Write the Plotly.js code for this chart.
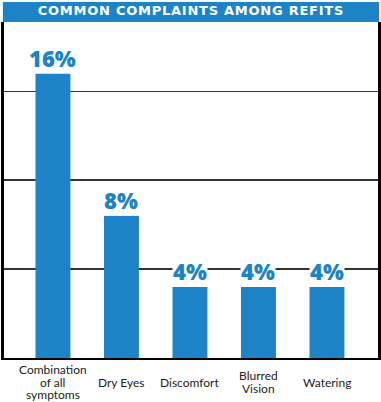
<!DOCTYPE html>
<html><head><meta charset="utf-8">
<script src="https://cdn.plot.ly/plotly-3.0.1.min.js"></script>
<style>html,body{margin:0;padding:0;background:#fff}#chart{width:381px;height:402px}</style>
</head><body><div id="chart"></div>
<script>
const chartTitle = "COMMON COMPLAINTS AMONG REFITS";
const categories = ["Combination<br>of all<br>symptoms", "Dry Eyes", "Discomfort", "Blurred<br>Vision", "Watering"];
const values = [16, 8, 4, 4, 4];
const valueLabels = ["16%", "8%", "4%", "4%", "4%"];
const gridTicks = [5, 10, 15];

const blue = "#1c84c6";
const xIdx = categories.map((_, i) => i);
const plotH = 402 - 22 - 44;
const lineGap = 12.5;
const labelCenter = 24;

const annotations = [];
values.forEach((v, i) => {
  annotations.push({x: i, y: v, xref: "x", yref: "y", text: valueLabels[i], showarrow: false,
    yanchor: "bottom", bgcolor: "#ffffff", borderpad: 0,
    font: {family: "Open Sans, sans-serif", size: 22, color: blue, weight: 800}});
  const lines = categories[i].split("<br>");
  lines.forEach((ln, k) => {
    const off = labelCenter + (k - (lines.length - 1) / 2) * lineGap;
    annotations.push({x: i, y: -off / plotH, xref: "x", yref: "paper", text: ln, showarrow: false,
      yanchor: "middle", align: "center", borderpad: 0,
      font: {family: "Lato, sans-serif", size: 12, color: "#222"}});
  });
});
annotations.push({x: 0.5, y: 1 + 11 / plotH, xref: "paper", yref: "paper", text: "<b>" + chartTitle + "</b>",
  showarrow: false, yanchor: "middle", xanchor: "center",
  font: {family: "DejaVu Sans, sans-serif", size: 13, color: "#ffffff"}});

const layout = {
  width: 381, height: 402,
  margin: {l: 4, r: 3, t: 22, b: 44},
  paper_bgcolor: "#fff", plot_bgcolor: "#fff",
  showlegend: false,
  xaxis: {range: [-0.715, 4.745], showticklabels: false, ticks: "", showgrid: false, zeroline: false,
    showline: true, linecolor: "#000", linewidth: 2, fixedrange: true},
  yaxis: {range: [0, 18.9], tickvals: gridTicks, showticklabels: false, ticks: "", showgrid: true,
    gridcolor: "#333", gridwidth: 1.5, zeroline: false, showline: true, mirror: true,
    linecolor: "#000", linewidth: 3, fixedrange: true},
  shapes: [{type: "rect", xref: "paper", yref: "paper", x0: -0.003, x1: 1.003, y0: 1, y1: 1 + 20 / plotH,
    fillcolor: blue, line: {width: 0}, layer: "above"}],
  annotations: annotations
};

Plotly.newPlot("chart", [{type: "bar", x: xIdx, y: values, width: 0.51,
  marker: {color: blue, line: {width: 0}}, hoverinfo: "none"}], layout,
  {displayModeBar: false, staticPlot: true}).then(() => {
    const texts = document.querySelectorAll(".annotation-text");
    const t = texts[texts.length - 1];
    if (t) t.style.letterSpacing = "0.75px";
  });
</script></body></html>
